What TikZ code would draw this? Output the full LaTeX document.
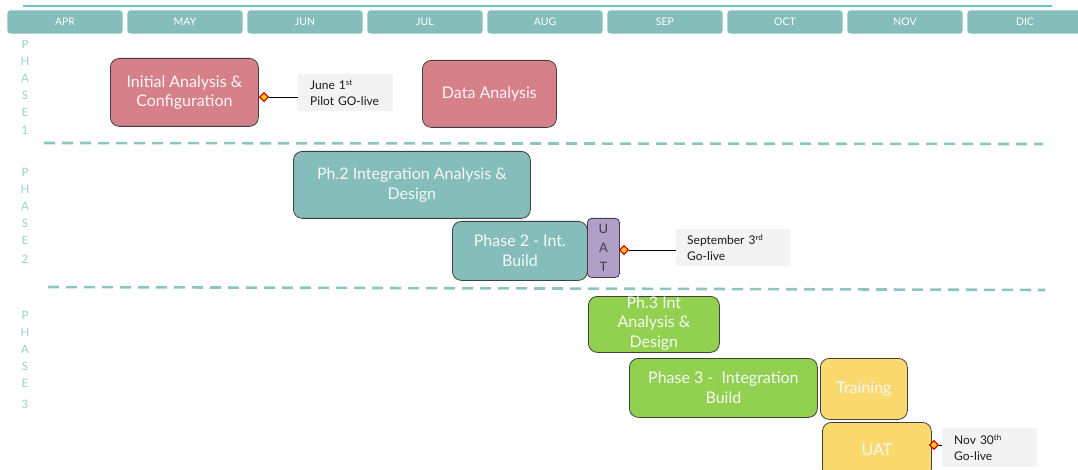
\documentclass[tikz,border=0pt]{standalone}
\usepackage{fontspec}
\setmainfont{Lato}
\usetikzlibrary{shapes.geometric}
\definecolor{hdrteal}{HTML}{84BDB9}
\definecolor{tealline}{HTML}{8CC4C0}
\definecolor{toprule}{HTML}{6CC7C1}
\definecolor{teallabel}{HTML}{9DCFCB}
\definecolor{rose}{HTML}{D6808A}
\definecolor{lav}{HTML}{B09FC9}
\definecolor{lime}{HTML}{92D050}
\definecolor{sun}{HTML}{FAD96E}
\definecolor{callbg}{HTML}{F3F3F3}
\definecolor{boxtext}{HTML}{F7F7F7}
\tikzset{
  month/.style={draw=white, line width=0.8pt, fill=hdrteal, rounded corners=3pt,
    minimum width=116pt, minimum height=24pt, inner sep=0pt,
    text=white, font=\fontsize{10.5}{12}\selectfont},
  task/.style={draw=black!75, line width=0.8pt, rounded corners=9pt, anchor=north west,
    inner sep=2pt, align=center, text=boxtext, font=\fontsize{16}{19.5}\selectfont},
  boxtxt/.style={align=center, inner sep=0pt, text=boxtext, font=\fontsize{16}{19.5}\selectfont},
  phaselabel/.style={text=teallabel, align=center, inner sep=0pt, anchor=north,
    font=\fontsize{11.5}{17}\selectfont},
  sep/.style={tealline, line width=2.6pt, dash pattern=on 11pt off 7pt},
  milestone/.style={diamond, draw=red!85!black, fill=yellow!70!orange, line width=1.3pt,
    inner sep=0pt, minimum size=9pt},
  callout/.style={fill=callbg, anchor=north west, align=left, inner sep=0pt,
    text=black!90, font=\fontsize{12}{16}\selectfont},
  link/.style={draw=black, line width=0.8pt}
}
\begin{document}
\begin{tikzpicture}[x=1pt,y=-1pt]
\useasboundingbox (0,0) rectangle (1078,470);

% top rule
\draw[toprule, line width=1.3pt] (23,6) -- (1052,6);

% month header
\foreach \m [count=\i from 0] in {APR,MAY,JUN,JUL,AUG,SEP,OCT,NOV,DIC}
  \node[month] (m\i) at (65+120*\i,22) {\m};

% phase labels
\node[phaselabel] (p1) at (25,40) {P\\H\\A\\S\\E\\[1pt]1};
\node[phaselabel] (p2) at (25,168) {P\\H\\A\\S\\E\\[2pt]2};
\node[phaselabel] (p3) at (25,311) {P\\H\\A\\S\\E\\[4pt]3};

% phase separators
\draw[sep] (44,143) -- (1043,144);
\draw[sep] (48,287) -- (1045,290);

% phase 1
\node[task, fill=rose, minimum width=148pt, minimum height=68pt] (ia) at (110,58)
  {Initial Analysis \&\\Configuration};
\node[task, fill=rose, minimum width=134pt, minimum height=67pt] (da) at (422,60)
  {Data Analysis};
\node[milestone] (ms1) at (264,97) {};
\node[callout, minimum width=95pt, minimum height=37pt, text width=89pt] (c1) at (298,74)
  {\hspace*{9pt}June 1\textsuperscript{st}\\\hspace*{9pt}Pilot GO-live};
\draw[link] (ms1) -- (ms1 -| c1.west);

% phase 2
\node[task, fill=hdrteal, minimum width=237pt, minimum height=67pt] (ia2) at (293,151)
  {Ph.2 Integration Analysis \&\\Design};
\node[task, fill=hdrteal, minimum width=135pt, minimum height=59pt] (b2) at (452,221)
  {Phase 2 - Int.\\Build};
\node[task, fill=lav, rounded corners=4pt, minimum width=32pt, minimum height=59pt,
  text=black!75, font=\fontsize{13}{19}\selectfont] (uat2) at (587,218) {U\\A\\T};
\node[milestone] (ms2) at (624,250) {};
\node[callout, minimum width=114pt, minimum height=37pt, text width=108pt] (c2) at (676,229)
  {\hspace*{8pt}September 3\textsuperscript{rd}\\\hspace*{8pt}Go-live};
\draw[link] (ms2) -- (ms2 -| c2.west);

% phase 3
\node[task, fill=lime, minimum width=131pt, minimum height=56pt] (ia3) at (588,296) {};
\node[boxtxt] (ia3t) at ([yshift=1pt]ia3.center) {Ph.3 Int\\Analysis \&\\Design};
\node[task, fill=lime, minimum width=188pt, minimum height=59pt] (b3) at (629,358)
  {Phase 3 -\ \ Integration\\Build};
\node[task, fill=sun, minimum width=87pt, minimum height=61pt] (tr) at (820,358)
  {Training};
\node[task, fill=sun, minimum width=109pt, minimum height=55pt] (uat3) at (822,422)
  {UAT};
\node[milestone] (ms3) at (934,445) {};
\node[callout, minimum width=95pt, minimum height=39pt, text width=89pt] (c3) at (942,428)
  {\hspace*{9pt}Nov 30\textsuperscript{th}\\\hspace*{9pt}Go-live};
\draw[link] (ms3) -- (ms3 -| c3.west);
\end{tikzpicture}
\end{document}
